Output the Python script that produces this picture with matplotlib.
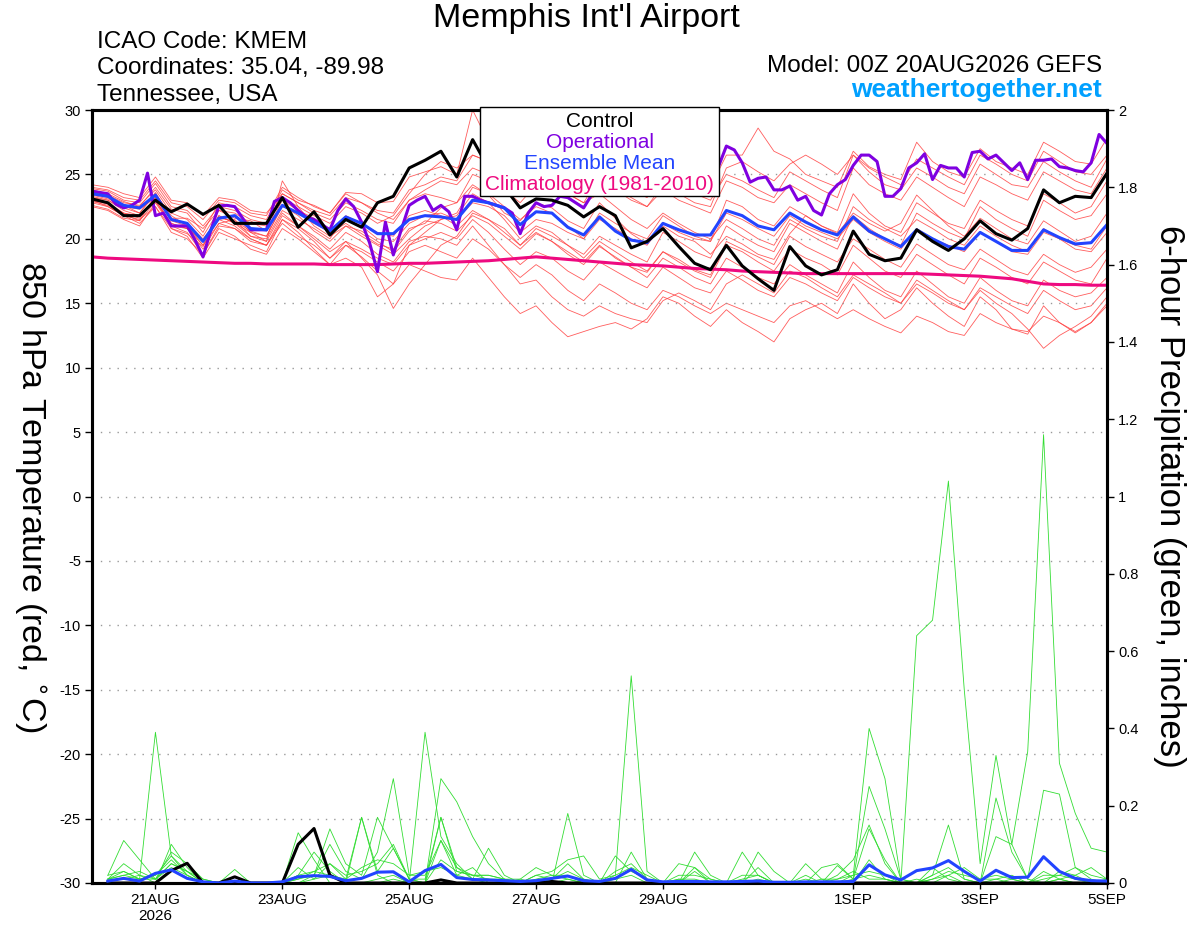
import matplotlib
matplotlib.use("Agg")
import matplotlib.pyplot as plt
from matplotlib.patches import Rectangle
import pandas as pd

plt.rcParams["font.family"] = ["Liberation Sans", "DejaVu Sans"]

# time axes: 6-hourly ensemble, 3-hourly operational run
times = pd.date_range("2026-08-20 00:00", "2026-09-05 00:00", freq="6h")
op_times = pd.date_range("2026-08-20 00:00", "2026-09-05 00:00", freq="3h")
precip_times = times[1:]

tick_dates = pd.to_datetime(["2026-08-21", "2026-08-23", "2026-08-25", "2026-08-27",
                             "2026-08-29", "2026-09-01", "2026-09-03", "2026-09-05"])
tick_labels = ["21AUG\n2026", "23AUG", "25AUG", "27AUG", "29AUG", "1SEP", "3SEP", "5SEP"]
temp_ticks = [30, 25, 20, 15, 10, 5, 0, -5, -10, -15, -20, -25, -30]
precip_ticks = [0, 0.2, 0.4, 0.6, 0.8, 1, 1.2, 1.4, 1.6, 1.8, 2]

# 850 hPa temperature, control run
control_temp = [23.1, 22.8, 21.8, 21.8, 23.0, 22.1, 22.7, 21.9,
                22.6, 21.2, 21.2, 21.2, 23.2, 20.9, 22.1, 20.3,
                21.5, 20.9, 22.8, 23.3, 25.5, 26.1, 26.8, 24.8,
                27.7, 25.5, 24.0, 22.4, 23.1, 23.0, 22.6, 21.7,
                22.5, 21.8, 19.3, 19.8, 20.8, 19.4, 18.1, 17.6,
                19.5, 17.9, 16.9, 16.0, 19.4, 17.9, 17.2, 17.6,
                20.6, 18.8, 18.3, 18.5, 20.7, 19.8, 19.1, 20.0,
                21.4, 20.4, 19.9, 20.8, 23.8, 22.8, 23.3, 23.2,
                25.1]

mean_temp = [23.5, 23.3, 22.6, 22.4, 23.4, 21.5, 21.2, 19.8,
             21.6, 21.8, 20.8, 20.7, 22.6, 22.0, 21.3, 20.6,
             21.7, 21.2, 20.4, 20.4, 21.5, 21.8, 21.7, 21.5,
             23.0, 22.8, 22.4, 21.1, 22.1, 22.0, 20.9, 20.3,
             21.7, 20.6, 19.9, 19.7, 21.2, 20.7, 20.3, 20.3,
             22.2, 21.8, 21.0, 20.7, 22.0, 21.3, 20.7, 20.3,
             21.7, 20.6, 20.0, 19.4, 20.7, 20.0, 19.4, 19.2,
             20.5, 19.8, 19.1, 19.1, 20.7, 20.1, 19.6, 19.7,
             21.1]

clim_temp = [18.6, 18.5, 18.45, 18.4, 18.35, 18.3, 18.25, 18.2,
             18.15, 18.1, 18.1, 18.05, 18.05, 18.05, 18.05, 18.0,
             18.0, 18.0, 18.0, 18.05, 18.1, 18.1, 18.15, 18.2,
             18.25, 18.3, 18.4, 18.5, 18.6, 18.5, 18.4, 18.3,
             18.2, 18.1, 18.0, 17.95, 17.9, 17.8, 17.7, 17.65,
             17.6, 17.5, 17.45, 17.4, 17.35, 17.3, 17.3, 17.3,
             17.3, 17.3, 17.3, 17.3, 17.3, 17.25, 17.2, 17.15,
             17.1, 17.0, 16.9, 16.7, 16.5, 16.45, 16.45, 16.4,
             16.4]

oper_temp = [23.7, 23.6, 23.5, 22.7, 22.4, 22.6, 23.0, 25.1,
             21.8, 22.0, 21.0, 21.0, 21.0, 19.9, 18.6, 20.7,
             22.55, 22.6, 22.5, 21.6, 20.7, 20.7, 20.7, 22.9,
             23.2, 22.8, 22.2, 21.7, 21.5, 21.1, 20.7, 22.2,
             23.1, 22.5, 21.3, 19.7, 17.45, 21.3, 18.75, 20.7,
             22.6, 23.0, 23.3, 22.2, 22.6, 22.1, 20.7, 23.3,
             23.3, 23.0, 22.8, 22.6, 22.4, 22.0, 20.4, 22.0,
             22.8, 22.5, 22.6, 23.3, 23.2, 22.8, 22.4, 23.4,
             24.0, 24.5, 24.2, 24.8, 25.3, 24.9, 25.5, 25.2,
             25.8, 26.0, 25.4, 25.9, 26.2, 25.6, 25.0, 25.6,
             27.2, 26.9, 25.9, 24.4, 24.7, 24.8, 23.8, 23.8,
             24.1, 23.0, 23.3, 22.2, 21.85, 23.5, 24.2, 24.6,
             25.7, 26.5, 26.5, 26.0, 23.3, 23.3, 23.9, 25.5,
             25.9, 26.6, 24.6, 25.7, 25.5, 25.5, 24.8, 26.7,
             26.8, 26.2, 26.5, 25.9, 25.3, 25.9, 24.6, 26.1,
             26.1, 26.2, 25.6, 25.5, 25.3, 25.2, 25.9, 28.1,
             27.4]

# ensemble members, 850 hPa temperature
temp_m01 = [23.8, 23.5, 22.9, 22.5, 24.0, 22.3, 22.0, 20.5,
            22.8, 22.5, 21.8, 21.5, 23.8, 23.0, 22.6, 22.0,
            23.6, 23.5, 22.8, 22.9, 24.8, 25.2, 25.6, 25.0,
            30.0, 27.5, 26.8, 25.5, 26.5, 26.0, 25.2, 24.5,
            26.0, 25.0, 24.6, 24.0, 25.5, 24.8, 24.2, 24.0,
            26.5, 26.5, 28.6, 26.8, 26.2, 25.0, 24.5, 24.0,
            26.8, 25.6, 25.0, 24.6, 27.5, 26.0, 25.2, 24.8,
            27.0, 26.0, 25.5, 25.0, 27.5, 26.8, 26.0, 25.8,
            27.8]
temp_m02 = [23.0, 22.8, 22.0, 21.8, 23.0, 21.0, 20.5, 18.8,
            21.0, 20.8, 19.8, 19.5, 21.5, 20.8, 19.8, 18.5,
            19.5, 18.6, 17.5, 16.5, 18.0, 17.5, 17.0, 16.8,
            18.5, 17.0, 15.5, 14.2, 14.8, 13.5, 12.4, 12.8,
            13.2, 13.5, 13.0, 13.8, 15.5, 15.0, 14.0, 13.2,
            14.5, 13.5, 12.8, 12.0, 13.8, 14.5, 15.0, 14.2,
            16.5, 15.0, 13.8, 14.5, 16.2, 15.0, 14.0, 13.2,
            15.5, 14.5, 13.0, 12.6, 14.8, 13.5, 12.8, 13.5,
            15.0]
temp_m03 = [23.2, 23.0, 22.4, 22.0, 23.5, 21.8, 21.0, 19.5,
            21.8, 21.2, 20.5, 19.8, 22.0, 21.0, 20.0, 19.0,
            19.8, 18.5, 17.2, 14.6, 16.5, 18.0, 19.5, 20.2,
            22.0, 21.5, 20.8, 19.5, 20.5, 19.8, 19.0, 18.2,
            19.5, 18.5, 17.8, 17.0, 18.5, 17.8, 17.0, 16.5,
            18.5, 17.8, 17.0, 16.5, 18.0, 17.2, 16.5, 15.8,
            18.2, 17.0, 16.0, 15.5, 17.5, 16.5, 15.5, 15.0,
            17.0, 16.0, 15.2, 14.8, 16.8, 16.0, 15.5, 15.8,
            17.0]
temp_m04 = [24.0, 23.8, 23.2, 23.0, 24.5, 22.8, 22.5, 21.5,
            23.0, 22.8, 22.0, 21.8, 24.0, 23.2, 22.5, 22.0,
            23.5, 22.8, 22.0, 21.5, 23.0, 23.8, 24.5, 24.2,
            25.5, 25.0, 24.2, 23.5, 24.8, 24.5, 23.2, 22.5,
            24.5, 23.8, 23.0, 22.5, 24.2, 23.5, 22.8, 22.5,
            25.5, 26.0, 25.2, 24.5, 25.8, 26.5, 25.8, 25.0,
            26.5, 25.2, 24.2, 23.8, 25.5, 24.8, 24.0, 23.5,
            25.8, 25.0, 24.2, 24.0, 26.0, 25.2, 24.5, 24.0,
            26.2]
temp_m05 = [23.5, 23.2, 22.5, 22.3, 23.2, 21.5, 21.2, 20.0,
            21.5, 21.8, 20.5, 20.2, 22.5, 22.0, 21.2, 20.5,
            21.5, 21.0, 20.0, 19.8, 21.2, 21.8, 22.0, 21.5,
            22.8, 22.5, 21.8, 20.5, 21.5, 21.2, 20.5, 20.0,
            21.5, 20.8, 20.0, 19.5, 21.2, 20.5, 20.0, 19.8,
            22.0, 21.5, 20.8, 20.2, 21.8, 21.0, 20.5, 20.0,
            21.5, 20.5, 19.8, 19.2, 20.8, 20.0, 19.5, 19.0,
            20.5, 19.8, 19.0, 18.8, 20.5, 20.0, 19.5, 19.2,
            21.0]
temp_m06 = [22.5, 22.2, 21.5, 21.0, 22.8, 21.0, 20.8, 19.2,
            21.2, 21.5, 20.2, 19.8, 24.5, 22.5, 21.0, 20.2,
            21.0, 20.2, 19.5, 18.8, 20.0, 21.0, 21.5, 21.8,
            23.5, 22.8, 21.5, 20.0, 21.0, 20.5, 19.5, 18.5,
            19.8, 19.0, 18.2, 17.5, 19.0, 18.2, 17.5, 17.0,
            19.5, 19.0, 18.2, 17.5, 19.2, 18.5, 18.0, 17.2,
            19.5, 18.5, 17.5, 17.0, 18.8, 18.0, 17.2, 16.5,
            18.5, 17.8, 17.0, 16.5, 18.2, 17.5, 16.8, 16.5,
            18.5]
temp_m07 = [23.0, 22.5, 21.8, 21.5, 22.5, 20.8, 20.2, 18.5,
            20.5, 20.0, 19.5, 19.0, 21.5, 20.5, 19.2, 18.0,
            18.5, 17.8, 15.5, 16.5, 19.5, 20.5, 21.5, 22.0,
            24.0, 23.5, 22.5, 21.5, 22.5, 22.0, 21.0, 20.0,
            22.0, 21.2, 20.5, 20.0, 21.8, 21.0, 20.2, 19.8,
            23.0, 22.5, 21.5, 21.0, 22.5, 21.8, 21.0, 20.5,
            23.5, 22.0, 21.0, 20.5, 22.8, 22.0, 21.2, 20.8,
            23.0, 22.2, 21.5, 21.0, 23.5, 22.8, 22.0, 22.5,
            24.5]
temp_m08 = [22.8, 22.5, 21.8, 21.2, 22.5, 20.5, 20.0, 18.8,
            20.8, 20.2, 19.2, 18.8, 20.8, 20.0, 19.0, 18.0,
            19.5, 19.0, 18.2, 17.5, 19.0, 19.5, 19.0, 18.5,
            20.0, 19.2, 18.0, 17.0, 18.0, 17.2, 16.0, 15.2,
            16.5, 15.8, 15.0, 14.5, 16.0, 15.5, 14.8, 14.2,
            15.0, 14.5, 14.0, 13.5, 14.8, 15.2, 14.5, 13.8,
            14.5, 13.8, 13.2, 12.7, 14.0, 13.5, 12.8, 12.5,
            14.2, 13.5, 13.0, 12.8, 14.0, 13.5, 12.7, 13.5,
            14.8]
temp_m09 = [23.3, 23.0, 22.2, 21.8, 23.0, 21.2, 20.8, 19.5,
            21.2, 20.8, 20.0, 19.5, 21.8, 21.0, 20.2, 19.2,
            20.5, 19.8, 18.8, 18.2, 19.8, 20.2, 20.0, 19.5,
            21.0, 19.5, 18.0, 16.5, 16.8, 15.5, 14.5, 14.0,
            14.8, 14.2, 13.8, 13.5, 15.2, 15.8, 15.2, 14.5,
            16.5, 17.2, 16.5, 15.8, 17.5, 17.0, 16.2, 15.5,
            17.2, 16.5, 15.8, 15.0, 16.8, 16.0, 15.2, 14.5,
            16.0, 15.0, 14.2, 13.0, 11.5, 12.5, 13.2, 14.0,
            15.5]
temp_m10 = [24.2, 24.0, 23.5, 23.2, 24.8, 23.0, 22.8, 21.8,
            23.2, 23.0, 22.2, 22.0, 23.5, 22.8, 22.0, 21.5,
            22.8, 22.2, 21.5, 21.2, 23.0, 23.5, 23.2, 22.8,
            25.0, 24.5, 23.8, 22.8, 24.2, 24.0, 23.5, 22.8,
            24.8, 24.0, 23.2, 22.5, 23.8, 23.0, 22.5, 22.0,
            24.5, 24.0, 23.2, 22.8, 24.2, 23.5, 22.8, 22.2,
            25.5, 24.2, 23.5, 23.0, 24.8, 24.0, 23.2, 22.5,
            24.8, 24.2, 23.5, 23.0, 25.2, 24.5, 23.8, 23.5,
            25.5]
temp_m11 = [22.6, 22.3, 21.6, 21.4, 22.9, 21.2, 20.8, 19.8,
            21.8, 21.2, 20.2, 20.0, 22.2, 21.5, 20.8, 20.0,
            21.8, 21.2, 20.5, 20.2, 21.8, 22.2, 21.8, 21.0,
            22.2, 21.5, 20.5, 19.5, 20.8, 20.2, 19.5, 18.8,
            20.2, 19.5, 18.8, 18.2, 20.5, 19.8, 19.0, 18.5,
            21.0, 20.2, 19.5, 19.0, 21.2, 20.5, 19.8, 19.2,
            21.8, 20.8, 20.0, 19.5, 22.0, 21.2, 20.5, 20.0,
            22.5, 21.5, 20.8, 20.2, 23.0, 22.2, 21.5, 21.8,
            23.5]
temp_m12 = [23.6, 23.4, 22.8, 22.6, 23.8, 22.0, 21.5, 20.2,
            22.2, 22.0, 21.2, 21.0, 23.2, 22.5, 21.8, 21.2,
            22.5, 22.0, 21.2, 21.8, 23.5, 25.0, 26.0, 25.5,
            26.5, 26.0, 25.0, 24.0, 25.2, 24.5, 23.5, 22.8,
            23.5, 22.5, 21.5, 20.8, 22.0, 21.2, 20.5, 20.0,
            21.5, 20.8, 20.0, 19.5, 21.5, 20.8, 20.2, 19.8,
            22.5, 21.5, 20.8, 20.2, 21.5, 20.8, 20.0, 19.5,
            21.0, 20.2, 19.5, 19.0, 20.8, 20.0, 19.2, 19.0,
            20.5]
temp_m13 = [23.0, 22.7, 22.0, 21.6, 23.2, 21.4, 21.0, 19.8,
            21.5, 21.0, 20.0, 19.5, 21.2, 20.2, 19.5, 18.5,
            19.8, 19.2, 18.5, 18.0, 19.5, 20.0, 20.5, 20.0,
            21.5, 20.5, 19.2, 18.0, 19.0, 18.5, 17.5, 16.8,
            18.2, 17.5, 16.8, 16.2, 17.8, 17.0, 16.2, 15.8,
            17.5, 16.8, 16.0, 15.5, 17.0, 16.5, 15.8, 15.2,
            17.0, 16.2, 15.5, 15.0, 16.5, 15.8, 15.0, 14.5,
            16.2, 15.5, 14.8, 14.2, 16.0, 15.2, 14.5, 14.8,
            16.2]
temp_m14 = [23.9, 23.7, 23.0, 22.8, 24.3, 22.5, 22.2, 21.0,
            22.5, 22.2, 21.5, 21.2, 23.5, 22.8, 22.2, 21.8,
            23.2, 22.8, 22.2, 22.0, 23.8, 24.2, 24.8, 24.5,
            26.5, 26.0, 25.0, 24.2, 25.2, 24.8, 24.0, 23.5,
            25.2, 24.5, 23.8, 23.2, 24.8, 24.2, 23.5, 23.0,
            25.0, 24.5, 23.8, 23.2, 25.2, 24.5, 23.8, 23.2,
            26.5, 25.5, 24.8, 24.2, 26.2, 25.5, 24.8, 24.2,
            26.5, 25.8, 25.0, 24.5, 26.8, 26.0, 25.2, 25.0,
            26.5]
temp_m15 = [23.4, 23.1, 22.6, 22.0, 23.6, 21.6, 21.6, 20.8,
            22.2, 21.6, 21.4, 20.6, 23.0, 22.2, 21.6, 20.4,
            21.2, 20.4, 19.6, 19.2, 20.8, 21.2, 22.4, 22.8,
            24.2, 23.4, 22.0, 21.4, 22.8, 22.4, 21.4, 20.8,
            22.8, 21.6, 20.4, 19.6, 21.0, 20.2, 19.8, 18.8,
            20.2, 19.6, 18.8, 18.4, 20.4, 21.8, 21.0, 20.4,
            22.0, 21.2, 20.6, 21.2, 23.4, 22.2, 21.0, 20.2,
            21.6, 20.8, 20.0, 19.6, 21.4, 20.6, 19.8, 20.2,
            22.0]
temp_m16 = [22.9, 22.6, 21.9, 21.4, 23.4, 20.8, 20.4, 19.4,
            21.6, 21.4, 20.6, 20.2, 22.6, 21.8, 20.6, 19.8,
            21.0, 20.6, 19.8, 19.0, 20.6, 21.4, 21.2, 20.6,
            21.8, 21.2, 20.2, 19.2, 20.4, 19.8, 18.8, 18.0,
            19.4, 18.6, 17.8, 17.4, 19.0, 18.4, 17.6, 17.2,
            19.8, 19.2, 18.6, 18.0, 20.2, 19.4, 18.8, 18.2,
            20.0, 19.2, 18.4, 17.8, 19.6, 18.8, 18.0, 17.6,
            19.2, 18.4, 17.6, 17.2, 18.8, 18.0, 17.4, 17.8,
            19.2]

# 6-hour precipitation (inches), control and ensemble mean
control_precip = [0, 0, 0, 0, 0.032, 0.051, 0, 0,
                  0.016, 0, 0, 0, 0.10, 0.141, 0.02, 0,
                  0, 0, 0, 0, 0, 0.008, 0, 0,
                  0, 0, 0, 0, 0.004, 0, 0, 0,
                  0, 0, 0, 0, 0, 0, 0, 0,
                  0, 0, 0, 0, 0, 0, 0, 0,
                  0, 0, 0, 0, 0, 0, 0, 0,
                  0, 0, 0, 0, 0, 0, 0, 0]
mean_precip = [0.005, 0.012, 0.005, 0.025, 0.034, 0.012, 0.003, 0.0,
               0.005, 0.0, 0.0, 0.003, 0.016, 0.019, 0.017, 0.006,
               0.012, 0.028, 0.029, 0.003, 0.032, 0.048, 0.014, 0.009,
               0.008, 0.006, 0.004, 0.006, 0.012, 0.018, 0.006, 0.004,
               0.012, 0.035, 0.008, 0.003, 0.004, 0.004, 0.003, 0.003,
               0.004, 0.005, 0.002, 0.002, 0.003, 0.003, 0.003, 0.004,
               0.047, 0.021, 0.008, 0.032, 0.039, 0.058, 0.03, 0.005,
               0.033, 0.014, 0.015, 0.068, 0.03, 0.012, 0.006, 0.005]

# ensemble members, 6-hour precipitation
precip_m01 = [0.01, 0.02, 0.01, 0.39, 0.07, 0.02, 0, 0,
              0, 0, 0, 0, 0.01, 0.03, 0.02, 0,
              0, 0.01, 0.02, 0, 0.39, 0.12, 0.05, 0.01,
              0, 0, 0, 0, 0, 0.01, 0, 0,
              0, 0, 0, 0, 0, 0, 0, 0,
              0, 0, 0, 0, 0, 0, 0, 0.02,
              0.4, 0.27, 0.01, 0, 0, 0, 0, 0,
              0, 0, 0, 0, 0.01, 0, 0, 0]
precip_m02 = [0.02, 0.11, 0.06, 0.01, 0.05, 0.03, 0, 0,
              0, 0, 0, 0, 0.02, 0.08, 0.03, 0,
              0, 0, 0.01, 0, 0, 0.27, 0.21, 0.12,
              0.05, 0.01, 0, 0, 0, 0, 0, 0,
              0, 0, 0, 0, 0.01, 0, 0, 0,
              0, 0, 0, 0, 0, 0, 0.01, 0.03,
              0.01, 0.01, 0, 0.64, 0.68, 1.04, 0.5, 0.05,
              0.33, 0.1, 0.34, 1.16, 0.31, 0.18, 0.09, 0.08]
precip_m03 = [0.01, 0.05, 0.02, 0, 0.1, 0.04, 0, 0,
              0.035, 0, 0, 0, 0.13, 0.06, 0, 0,
              0.17, 0.02, 0, 0, 0, 0.17, 0.04, 0.01,
              0.09, 0.02, 0, 0, 0, 0.18, 0.02, 0,
              0.07, 0.03, 0.01, 0, 0, 0.08, 0.02, 0,
              0.08, 0.02, 0, 0, 0.05, 0.01, 0, 0.01,
              0.25, 0.14, 0.01, 0, 0.02, 0.15, 0.01, 0,
              0.22, 0.08, 0.01, 0.24, 0.23, 0.04, 0.01, 0]
precip_m04 = [0.02, 0.03, 0.01, 0.02, 0.07, 0.03, 0.01, 0,
              0, 0, 0, 0, 0, 0.02, 0.14, 0.05,
              0.02, 0.17, 0.09, 0.01, 0, 0.11, 0.02, 0.04,
              0, 0, 0, 0.02, 0.03, 0.06, 0.07, 0.01,
              0.02, 0.536, 0.03, 0, 0, 0.04, 0.01, 0,
              0, 0.08, 0.03, 0, 0, 0, 0.02, 0.06,
              0.15, 0.05, 0, 0, 0.04, 0.01, 0, 0,
              0.12, 0.1, 0.01, 0, 0.03, 0.02, 0, 0]
precip_m05 = [0.01, 0.02, 0.03, 0.01, 0.08, 0.05, 0.01, 0,
              0, 0, 0, 0, 0.01, 0.02, 0.1, 0.03,
              0.01, 0.08, 0.27, 0.02, 0.03, 0.04, 0.02, 0.01,
              0.01, 0, 0.01, 0.04, 0.02, 0.02, 0, 0,
              0, 0.08, 0.01, 0, 0.05, 0.04, 0, 0,
              0, 0.04, 0, 0, 0, 0.04, 0.05, 0.01,
              0.14, 0.06, 0, 0.01, 0, 0.02, 0.04, 0.01,
              0.01, 0, 0, 0.02, 0.02, 0.04, 0.02, 0.01]
precip_m06 = [0.005, 0.01, 0.01, 0.02, 0.06, 0.02, 0, 0,
              0, 0, 0, 0, 0, 0.01, 0.05, 0.01,
              0.17, 0.03, 0.09, 0.01, 0.01, 0.17, 0.03, 0.02,
              0.02, 0.01, 0, 0.02, 0.01, 0.05, 0.01, 0,
              0.03, 0.05, 0.01, 0, 0.02, 0.02, 0.01, 0,
              0.01, 0.02, 0, 0, 0.02, 0, 0.045, 0.01,
              0.02, 0.01, 0, 0, 0.01, 0.03, 0.02, 0.01,
              0.02, 0.01, 0, 0.03, 0.01, 0.02, 0.04, 0.01]
precip_m07 = [0.01, 0.01, 0.02, 0.01, 0.04, 0.02, 0, 0,
              0, 0, 0, 0, 0.04, 0.01, 0.02, 0.01,
              0.04, 0.06, 0.05, 0.02, 0.02, 0.11, 0.04, 0.02,
              0.01, 0.01, 0, 0.01, 0.02, 0.01, 0, 0,
              0.02, 0.04, 0.02, 0, 0, 0.03, 0, 0,
              0.02, 0.02, 0, 0, 0, 0.01, 0.01, 0.02,
              0.03, 0.02, 0, 0, 0.02, 0.04, 0.01, 0,
              0.01, 0.02, 0, 0.01, 0.02, 0.01, 0, 0.01]
precip_m08 = [0.01, 0.03, 0.01, 0.01, 0.05, 0.03, 0, 0,
              0, 0, 0, 0, 0.02, 0.03, 0.05, 0.02,
              0.03, 0.05, 0.1, 0.01, 0, 0.06, 0.03, 0.02,
              0.02, 0.01, 0.01, 0, 0.01, 0.03, 0.01, 0,
              0.01, 0.02, 0, 0, 0.01, 0.01, 0, 0,
              0, 0.01, 0, 0, 0.01, 0, 0, 0,
              0.06, 0.01, 0, 0, 0.01, 0.02, 0, 0,
              0, 0.01, 0, 0, 0.01, 0, 0, 0]

temp_members = [temp_m01, temp_m02, temp_m03, temp_m04, temp_m05, temp_m06,
                temp_m07, temp_m08, temp_m09, temp_m10, temp_m11, temp_m12,
                temp_m13, temp_m14, temp_m15, temp_m16]
precip_members = [precip_m01, precip_m02, precip_m03, precip_m04,
                  precip_m05, precip_m06, precip_m07, precip_m08]

RED = "#ff4040"
GREEN = "#33dd33"
BLUE = "#2244ff"
PURPLE = "#7f00e0"
PINK = "#ee0a80"


def main():
    fig = plt.figure(figsize=(12, 9.27), dpi=100)
    ax = fig.add_axes([92 / 1200, 44 / 927, 1015 / 1200, 773 / 927])
    ax2 = ax.twinx()

    for member in temp_members:
        ax.plot(times, member, color=RED, linewidth=0.6, alpha=0.85, zorder=1)
    ax.plot(times, clim_temp, color=PINK, linewidth=2.2, zorder=3)
    ax.plot(op_times, oper_temp, color=PURPLE, linewidth=2.2, zorder=4)
    ax.plot(times, mean_temp, color=BLUE, linewidth=2.2, zorder=5)
    ax.plot(times, control_temp, color="black", linewidth=2.2, zorder=6)

    for member in precip_members:
        ax2.plot(precip_times, member, color=GREEN, linewidth=0.6, zorder=1)
    ax2.plot(precip_times, control_precip, color="black", linewidth=2.2, zorder=3)
    ax2.plot(precip_times, mean_precip, color=BLUE, linewidth=2.2, zorder=4)

    ax.set_xlim(times[0], times[-1])
    ax.set_ylim(-30, 30)
    ax2.set_ylim(0, 2)

    ax.set_yticks(temp_ticks)
    ax.set_yticklabels([str(v) for v in temp_ticks])
    ax2.set_yticks(precip_ticks)
    ax2.set_yticklabels([f"{v:g}" for v in precip_ticks])
    ax.set_xticks(tick_dates)
    ax.set_xticklabels(tick_labels)

    ax.yaxis.grid(True, linestyle=(0, (1, 5)), color="#999999", linewidth=1)
    ax.tick_params(axis="y", labelsize=10.5, length=5, width=1, pad=3)
    ax2.tick_params(axis="y", labelsize=10.5, length=5, width=1, pad=3)
    ax.tick_params(axis="x", labelsize=11, length=4, width=1, pad=3)

    for a in (ax, ax2):
        for spine in a.spines.values():
            spine.set_linewidth(2.2)

    # both axis titles read top to bottom
    ax.set_ylabel("850 hPa Temperature (red, $^{\\circ}$C)", fontsize=24.5,
                  rotation=270, va="center")
    ax.yaxis.set_label_coords(-0.062, 0.5)
    ax2.set_ylabel("6-hour Precipitation (green, inches)", fontsize=25,
                   rotation=270, va="center")
    ax2.yaxis.set_label_coords(1.062, 0.5)

    # legend box sits over the lines
    box = Rectangle((388 / 1015, 687 / 773), 239 / 1015, 89 / 773,
                    transform=ax2.transAxes, facecolor="white", edgecolor="black",
                    linewidth=1, zorder=20, clip_on=False)
    ax2.add_patch(box)
    legend_rows = [("Control", "black"), ("Operational", PURPLE),
                   ("Ensemble Mean", BLUE), ("Climatology (1981-2010)", PINK)]
    for n, (label, color) in enumerate(legend_rows):
        ax2.text(507.5 / 1015, (762 - n * 21.3) / 773, label, color=color,
                 fontsize=15, ha="center", va="center",
                 transform=ax2.transAxes, zorder=21)

    fig.text(586 / 1200, 1 - 19 / 927, "Memphis Int'l Airport", fontsize=24.5,
             ha="center", va="center")
    fig.text(97 / 1200, 1 - 42 / 927, "ICAO Code: KMEM", fontsize=17.5,
             ha="left", va="center")
    fig.text(97 / 1200, 1 - 68 / 927, "Coordinates: 35.04, -89.98", fontsize=17.5,
             ha="left", va="center")
    fig.text(97 / 1200, 1 - 95 / 927, "Tennessee, USA", fontsize=17.5,
             ha="left", va="center")
    fig.text(1102 / 1200, 1 - 66 / 927, "Model: 00Z 20AUG2026 GEFS", fontsize=17.5,
             ha="right", va="center")
    fig.text(1102 / 1200, 1 - 90 / 927, "weathertogether.net", fontsize=19,
             fontweight="bold", color="#00a0ff", ha="right", va="center")

    fig.savefig("out.png", dpi=100)


if __name__ == "__main__":
    main()
